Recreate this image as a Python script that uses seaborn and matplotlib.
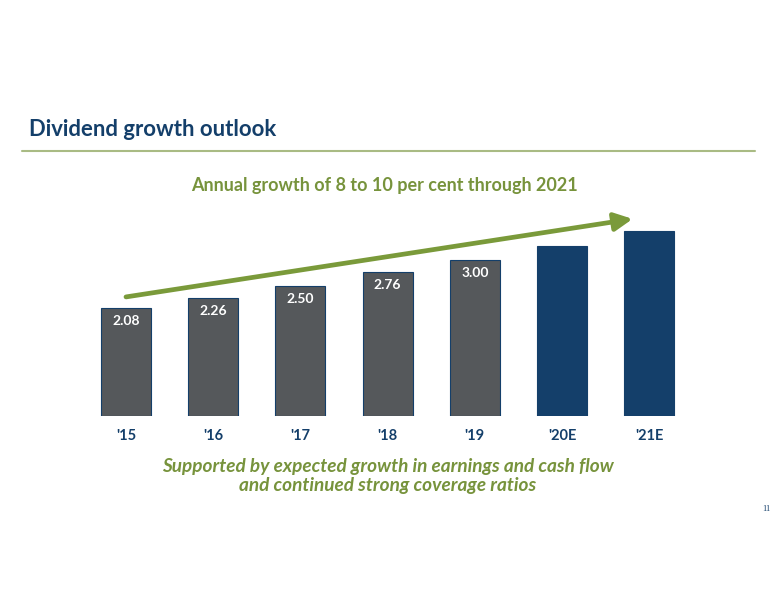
import matplotlib
matplotlib.use("Agg")
import matplotlib.pyplot as plt
import seaborn as sns
from matplotlib.lines import Line2D

# data
years = ["'15", "'16", "'17", "'18", "'19", "'20E", "'21E"]
dividends = [2.08, 2.26, 2.50, 2.76, 3.00, 3.27, 3.56]
value_labels = ["2.08", "2.26", "2.50", "2.76", "3.00", "", ""]
is_estimate = [False, False, False, False, False, True, True]

NAVY = "#143F6A"
GREY = "#55585B"
GREEN = "#77933C"
RULE = "#A9BB84"

sns.set_theme(style="white")
plt.rcParams["font.family"] = ["Lato", "DejaVu Sans"]

fig = plt.figure(figsize=(7.76, 6.0), dpi=100)
ax = fig.add_axes([82.4 / 776, 184 / 600, 610.4 / 776, 208 / 600])

colors = [NAVY if e else GREY for e in is_estimate]
sns.barplot(x=years, y=dividends, hue=years, palette=colors, legend=False,
            width=0.573, edgecolor=NAVY, linewidth=0.8, saturation=1, ax=ax)

ax.set_xlim(-0.5, 6.5)
ax.set_ylim(0, 4)
ax.set_xlabel("")
ax.set_ylabel("")
ax.set_yticks([])
sns.despine(ax=ax, left=True, bottom=True)
ax.tick_params(axis="x", length=0, pad=9)
for t in ax.get_xticklabels():
    t.set_color(NAVY)
    t.set_fontweight("bold")
    t.set_fontsize(10.5)

# value labels inside bars
for i, (v, lab) in enumerate(zip(dividends, value_labels)):
    if lab:
        ax.text(i, v - 0.245, lab, ha="center", va="center", color="white",
                fontsize=10, fontweight="bold")

# growth arrow
ax.annotate("", xy=(5.81, 3.79), xytext=(0, 2.29),
            arrowprops=dict(arrowstyle="-|>,head_length=0.9,head_width=0.45",
                            color="#7A9A3A", lw=3.4, shrinkA=0, shrinkB=0))

# headings
fig.text(29 / 776, 1 - 130 / 600, "Dividend growth outlook", color=NAVY,
         fontsize=15.9, fontweight="bold", ha="left", va="center")
fig.add_artist(Line2D([22 / 776, 755 / 776], [1 - 151 / 600] * 2,
                      color=RULE, lw=1.5, transform=fig.transFigure))
fig.text(384 / 776, 1 - 185 / 600, "Annual growth of 8 to 10 per cent through 2021",
         color=GREEN, fontsize=13, fontweight="bold", ha="center", va="center")
fig.text(388 / 776, 1 - 476 / 600,
         "Supported by expected growth in earnings and cash flow\nand continued strong coverage ratios",
         color=GREEN, fontsize=13.7, fontweight="bold", style="italic",
         ha="center", va="center", linespacing=1.1)
fig.text(766 / 776, 1 - 509 / 600, "11", color=NAVY, fontsize=6,
         family="Liberation Serif", ha="center", va="center")

fig.savefig("out.png", dpi=100)
